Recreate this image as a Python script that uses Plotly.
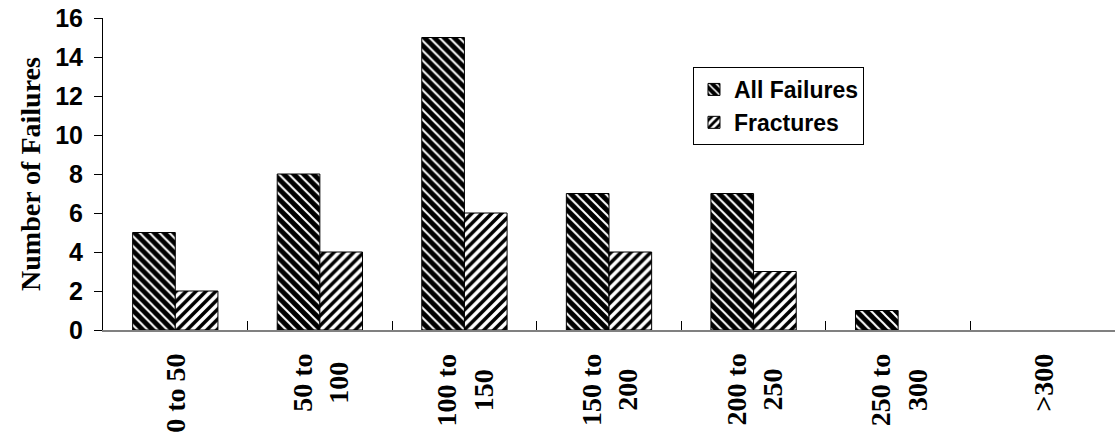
import plotly.graph_objects as go

# Load ranges (kN) and failure counts
categories = ["0 to 50", "50 to 100", "100 to 150", "150 to 200", "200 to 250", "250 to 300", ">300"]
category_labels = ["0 to 50", "50 to<br>100", "100 to<br>150", "150 to<br>200",
                   "200 to<br>250", "250 to<br>300", "&gt;300"]
all_failures = [5, 8, 15, 7, 7, 1, 0]
fractures = [2, 4, 6, 4, 3, 0, 0]
y_ticks = [0, 2, 4, 6, 8, 10, 12, 14, 16]

SERIF = "Liberation Serif"
SANS = "Liberation Sans"


def outline_widths(values):
    # empty bins get no outline so nothing is drawn on the baseline
    return [1 if v else 0 for v in values]


fig = go.Figure()
fig.add_trace(go.Bar(
    name="<b>All Failures</b>", x=categories, y=all_failures,
    marker=dict(
        color="black",
        line=dict(color="black", width=outline_widths(all_failures)),
        pattern=dict(shape="\\", bgcolor="black", fgcolor="white",
                     size=7, solidity=0.28, fillmode="replace"),
    ),
))
fig.add_trace(go.Bar(
    name="<b>Fractures</b>", x=categories, y=fractures,
    marker=dict(
        color="white",
        line=dict(color="black", width=outline_widths(fractures)),
        pattern=dict(shape="/", bgcolor="white", fgcolor="black",
                     size=7, solidity=0.5, fillmode="replace"),
    ),
))

# Centred, rotated category labels below the axis
for cat, lab in zip(categories, category_labels):
    fig.add_annotation(
        x=cat, xref="x", y=0, yref="paper", yanchor="top", yshift=-22,
        text="<b>" + lab + "</b>", textangle=-90, showarrow=False, align="center",
        font=dict(family=SERIF, size=28, color="black"),
    )

fig.update_layout(
    width=1116, height=435,
    margin=dict(l=103, r=1, t=18, b=105),
    paper_bgcolor="white", plot_bgcolor="white",
    barmode="group", bargap=0.41, bargroupgap=0,
    showlegend=True,
    legend=dict(
        x=0.583, y=0.843, xanchor="left", yanchor="top",
        bgcolor="white", bordercolor="black", borderwidth=1,
        font=dict(family=SANS, size=23, color="black"),
        itemwidth=30, tracegroupgap=0,
    ),
    xaxis=dict(
        type="category", range=[-0.5, 6.5],
        showticklabels=False,
        tickson="boundaries", ticks="inside", ticklen=9, tickcolor="black", tickwidth=1,
        showline=True, linecolor="#808080", linewidth=2,
        showgrid=False, zeroline=False,
    ),
    yaxis=dict(
        range=[0, 16], tickvals=y_ticks,
        ticktext=["<b>%d</b>" % t for t in y_ticks],
        ticks="outside", ticklen=8, tickcolor="black", tickwidth=1,
        ticklabelstandoff=6,
        tickfont=dict(family=SANS, size=25, color="black"),
        showline=True, linecolor="black", linewidth=1,
        showgrid=False, zeroline=False,
        title=dict(text="<b>Number of Failures</b>", standoff=6,
                   font=dict(family=SERIF, size=28, color="black")),
    ),
)

fig.write_html("out.html")
